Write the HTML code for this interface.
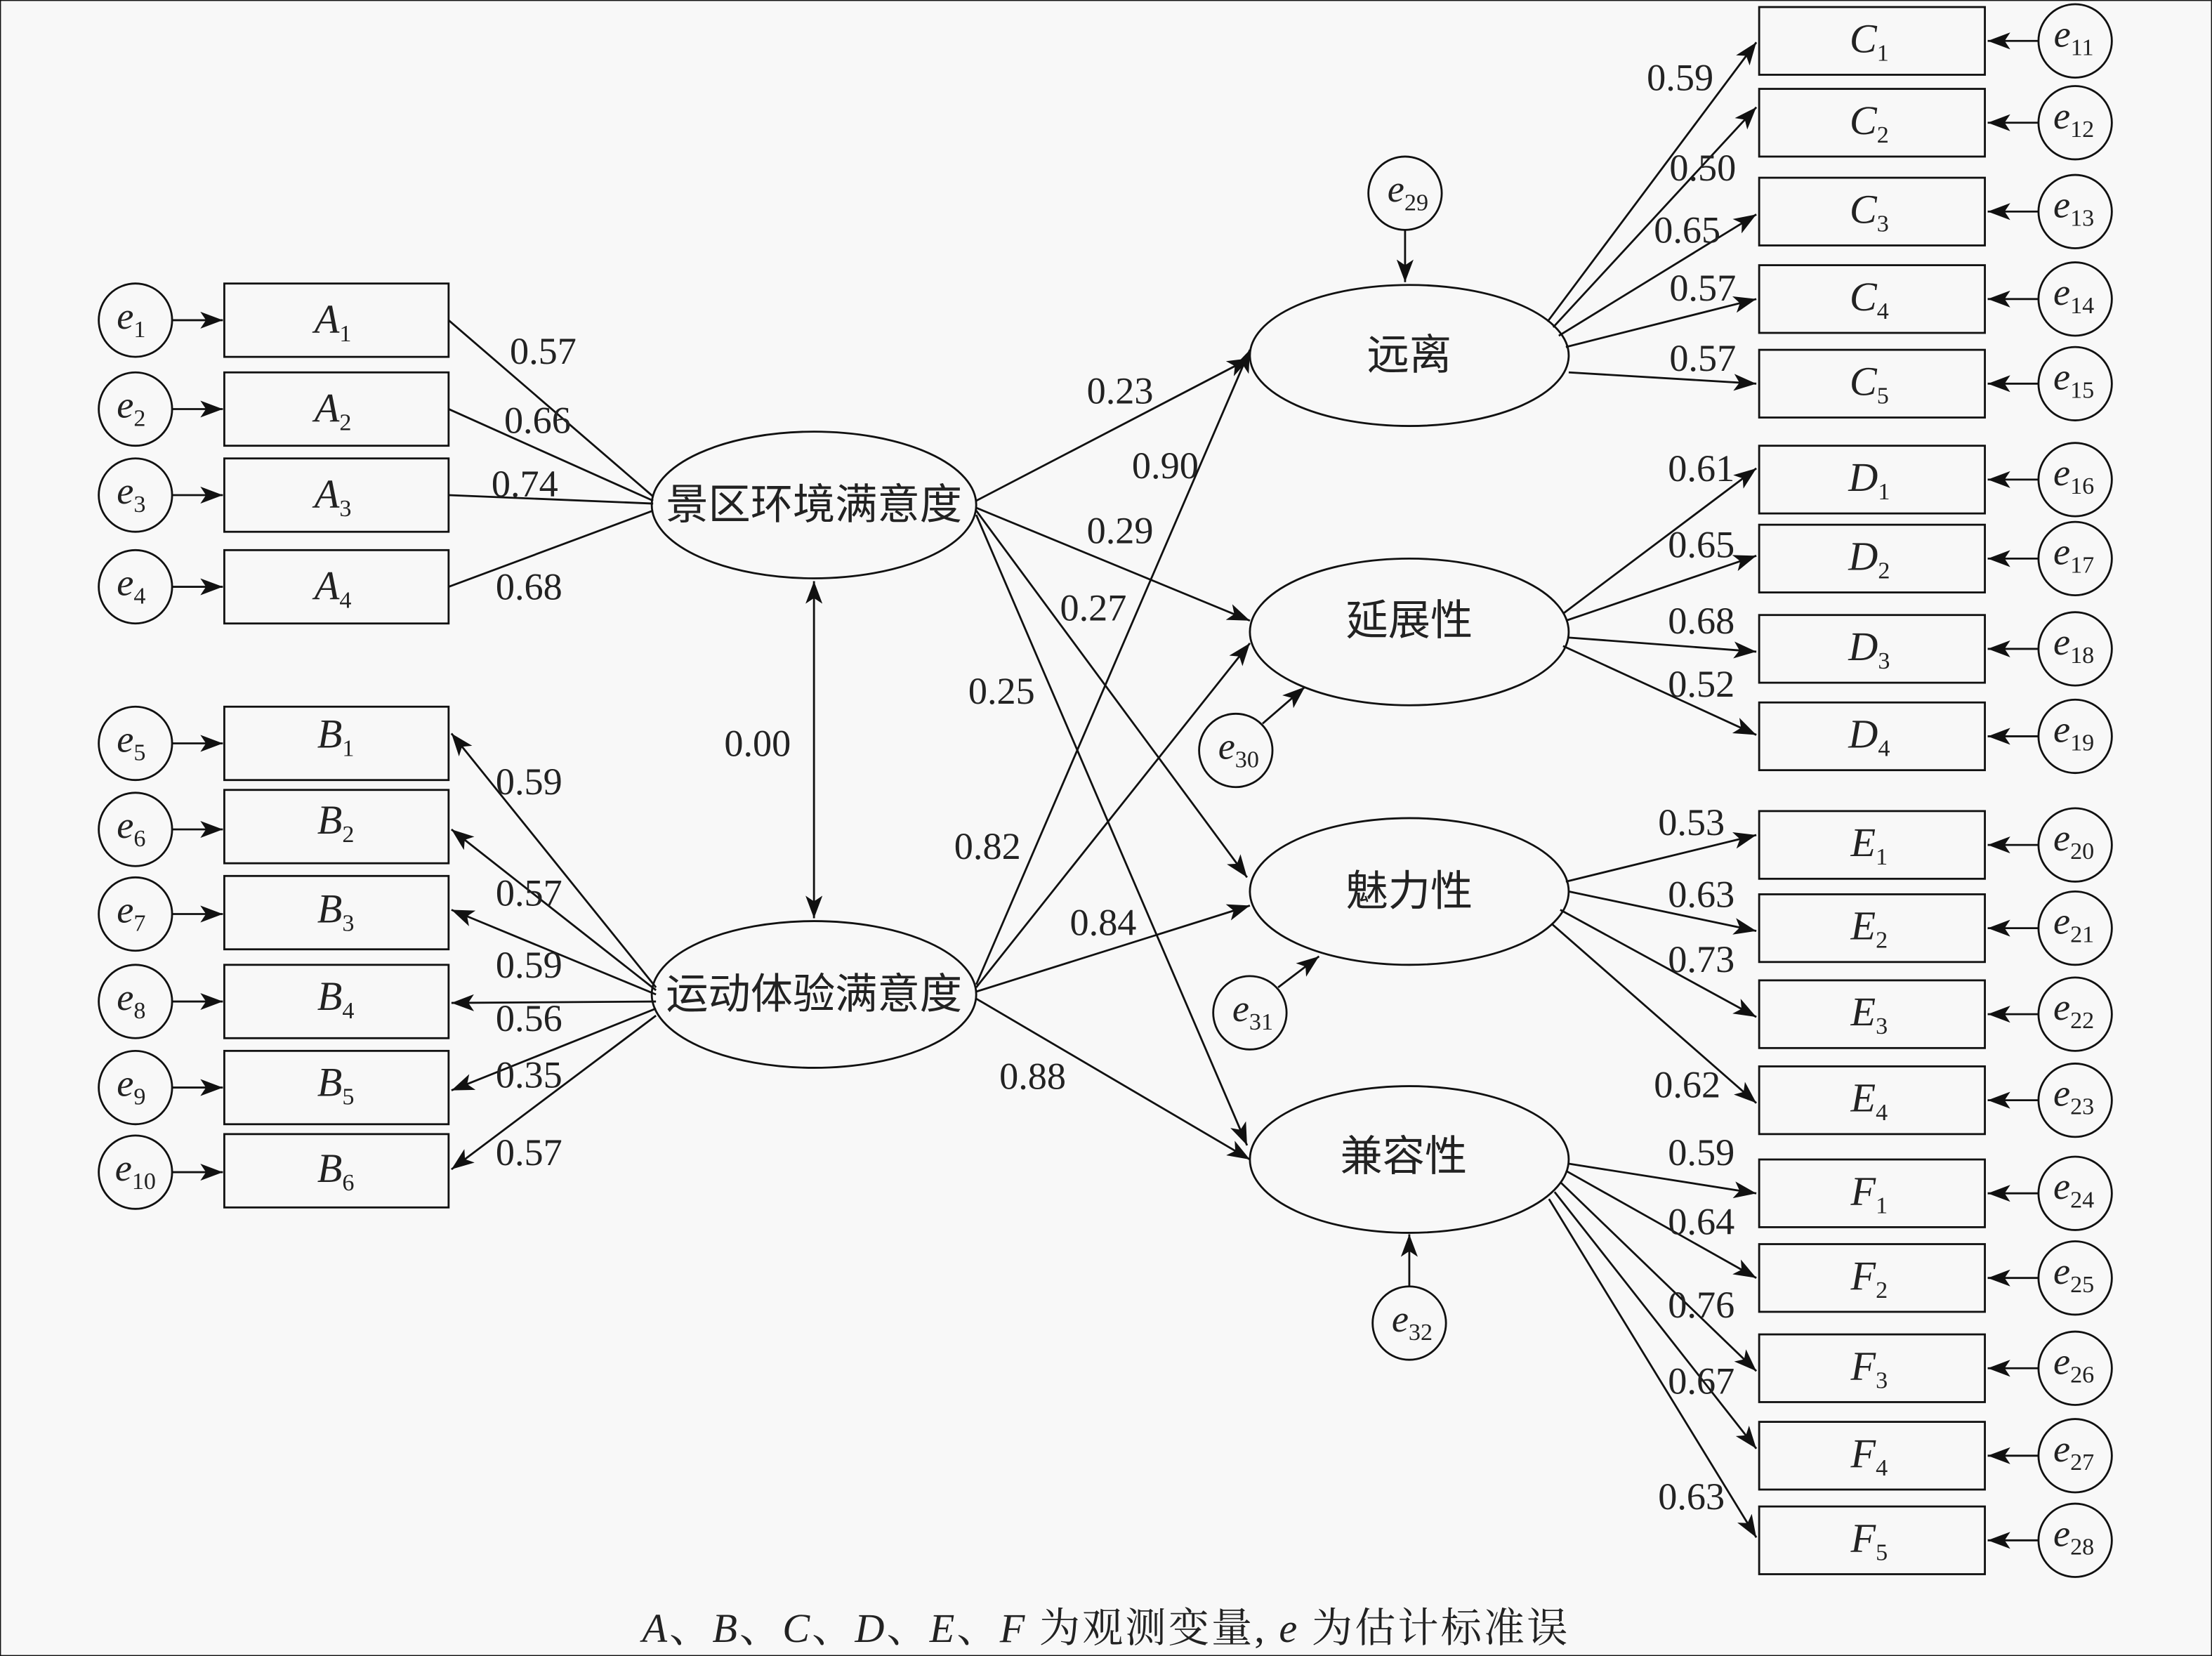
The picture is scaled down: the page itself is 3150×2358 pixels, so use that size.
<!DOCTYPE html>
<html><head><meta charset="utf-8"><style>
html,body{margin:0;padding:0;background:#f8f8f8;}
svg{display:block;}
text{font-family:"Liberation Serif","Noto Serif CJK SC",serif;fill:#222;}
.n{font-size:27px;text-anchor:middle;}
.v{font-size:29px;font-style:italic;text-anchor:middle;}
.e{font-size:27px;font-style:italic;text-anchor:middle;}
.s{font-style:normal;font-size:17px;}
.c{font-family:"Liberation Sans","Noto Sans CJK SC",sans-serif;font-size:30px;text-anchor:middle;}
line,rect,ellipse,circle{stroke:#111;stroke-width:1.4;fill:none;}
</style></head><body>
<svg width="3150" height="2358" viewBox="0 0 1568 1174" preserveAspectRatio="none" xmlns="http://www.w3.org/2000/svg">
<defs>
<marker id="a" viewBox="0 0 16 12" refX="16" refY="6" markerWidth="16" markerHeight="12" markerUnits="userSpaceOnUse" orient="auto-start-reverse">
<path d="M0,0 L16,6 L0,12 L4,6 z" fill="#111"/></marker>
</defs>
<rect x="0" y="0" width="1568" height="1174" fill="#f8f8f8" stroke="none"/>

<g>
<rect x="159" y="201" width="159" height="52"/><rect x="159" y="264" width="159" height="52"/>
<rect x="159" y="325" width="159" height="52"/><rect x="159" y="390" width="159" height="52"/>
<rect x="159" y="501" width="159" height="52"/><rect x="159" y="560" width="159" height="52"/>
<rect x="159" y="621" width="159" height="52"/><rect x="159" y="684" width="159" height="52"/>
<rect x="159" y="745" width="159" height="52"/><rect x="159" y="804" width="159" height="52"/>
</g>
<g>
<circle cx="96" cy="227" r="26"/><circle cx="96" cy="290" r="26"/><circle cx="96" cy="351" r="26"/><circle cx="96" cy="416" r="26"/>
<circle cx="96" cy="527" r="26"/><circle cx="96" cy="588" r="26"/><circle cx="96" cy="648" r="26"/><circle cx="96" cy="710" r="26"/><circle cx="96" cy="771" r="26"/><circle cx="96" cy="831" r="26"/>
</g>
<g marker-end="url(#a)">
<line x1="122" y1="227" x2="158" y2="227"/><line x1="122" y1="290" x2="158" y2="290"/><line x1="122" y1="351" x2="158" y2="351"/><line x1="122" y1="416" x2="158" y2="416"/>
<line x1="122" y1="527" x2="158" y2="527"/><line x1="122" y1="588" x2="158" y2="588"/><line x1="122" y1="648" x2="158" y2="648"/><line x1="122" y1="710" x2="158" y2="710"/><line x1="122" y1="771" x2="158" y2="771"/><line x1="122" y1="831" x2="158" y2="831"/>
</g>
<text class="e" x="93" y="233">e<tspan class="s" dy="6">1</tspan></text>
<text class="e" x="93" y="296">e<tspan class="s" dy="6">2</tspan></text>
<text class="e" x="93" y="357">e<tspan class="s" dy="6">3</tspan></text>
<text class="e" x="93" y="422">e<tspan class="s" dy="6">4</tspan></text>
<text class="e" x="93" y="533">e<tspan class="s" dy="6">5</tspan></text>
<text class="e" x="93" y="594">e<tspan class="s" dy="6">6</tspan></text>
<text class="e" x="93" y="654">e<tspan class="s" dy="6">7</tspan></text>
<text class="e" x="93" y="716">e<tspan class="s" dy="6">8</tspan></text>
<text class="e" x="93" y="777">e<tspan class="s" dy="6">9</tspan></text>
<text class="e" x="96" y="837">e<tspan class="s" dy="6">10</tspan></text>

<text class="v" x="236" y="236">A<tspan class="s" dy="6">1</tspan></text>
<text class="v" x="236" y="299">A<tspan class="s" dy="6">2</tspan></text>
<text class="v" x="236" y="360">A<tspan class="s" dy="6">3</tspan></text>
<text class="v" x="236" y="425">A<tspan class="s" dy="6">4</tspan></text>
<text class="v" x="238" y="530">B<tspan class="s" dy="6">1</tspan></text>
<text class="v" x="238" y="591">B<tspan class="s" dy="6">2</tspan></text>
<text class="v" x="238" y="654">B<tspan class="s" dy="6">3</tspan></text>
<text class="v" x="238" y="716">B<tspan class="s" dy="6">4</tspan></text>
<text class="v" x="238" y="777">B<tspan class="s" dy="6">5</tspan></text>
<text class="v" x="238" y="838">B<tspan class="s" dy="6">6</tspan></text>

<ellipse cx="577" cy="358" rx="115" ry="52"/>
<ellipse cx="577" cy="705" rx="115" ry="52"/>
<text class="c" x="577" y="368">景区环境满意度</text>
<text class="c" x="577" y="715">运动体验满意度</text>
<line x1="318" y1="227" x2="463" y2="352"/><line x1="318" y1="290" x2="463" y2="355"/>
<line x1="318" y1="351" x2="463" y2="357"/><line x1="318" y1="416" x2="463" y2="362"/>
<g marker-end="url(#a)">
<line x1="465" y1="700" x2="320" y2="520"/><line x1="465" y1="702" x2="320" y2="588"/>
<line x1="465" y1="705" x2="320" y2="645"/><line x1="465" y1="710" x2="320" y2="711"/>
<line x1="465" y1="715" x2="320" y2="773"/><line x1="465" y1="720" x2="320" y2="829"/>
</g>
<line x1="577" y1="412" x2="577" y2="651" marker-start="url(#a)" marker-end="url(#a)"/>
<text class="n" x="385" y="258">0.57</text><text class="n" x="381" y="307">0.66</text>
<text class="n" x="372" y="352">0.74</text><text class="n" x="375" y="425">0.68</text>
<text class="n" x="375" y="563">0.59</text><text class="n" x="375" y="642">0.57</text>
<text class="n" x="375" y="693">0.59</text><text class="n" x="375" y="731">0.56</text>
<text class="n" x="375" y="771">0.35</text><text class="n" x="375" y="826">0.57</text>
<text class="n" x="537" y="536">0.00</text>

<g marker-end="url(#a)">
<line x1="692" y1="355" x2="886" y2="254"/>
<line x1="692" y1="360" x2="886" y2="440"/>
<line x1="692" y1="362" x2="884" y2="622"/>
<line x1="692" y1="365" x2="884" y2="812"/>
<line x1="692" y1="698" x2="886" y2="248"/>
<line x1="692" y1="700" x2="886" y2="456"/>
<line x1="692" y1="703" x2="886" y2="642"/>
<line x1="692" y1="708" x2="886" y2="822"/>
</g>
<text class="n" x="794" y="286">0.23</text><text class="n" x="826" y="339">0.90</text>
<text class="n" x="794" y="385">0.29</text><text class="n" x="775" y="440">0.27</text>
<text class="n" x="710" y="499">0.25</text><text class="n" x="700" y="609">0.82</text>
<text class="n" x="782" y="663">0.84</text><text class="n" x="732" y="772">0.88</text>

<ellipse cx="999" cy="252" rx="113" ry="50"/>
<ellipse cx="999" cy="448" rx="113" ry="52"/>
<ellipse cx="999" cy="632" rx="113" ry="52"/>
<ellipse cx="999" cy="822" rx="113" ry="52"/>
<text class="c" x="999" y="262">远离</text>
<text class="c" x="999" y="450">延展性</text>
<text class="c" x="999" y="642">魅力性</text>
<text class="c" x="995" y="830">兼容性</text>

<circle cx="996" cy="137" r="26"/><circle cx="876" cy="532" r="26"/>
<circle cx="886" cy="718" r="26"/><circle cx="999" cy="938" r="26"/>
<g marker-end="url(#a)">
<line x1="996" y1="163" x2="996" y2="200"/>
<line x1="895" y1="513" x2="925" y2="487"/>
<line x1="906" y1="700" x2="935" y2="678"/>
<line x1="999" y1="912" x2="999" y2="875"/>
</g>
<text class="e" x="998" y="143">e<tspan class="s" dy="6">29</tspan></text>
<text class="e" x="878" y="538">e<tspan class="s" dy="6">30</tspan></text>
<text class="e" x="888" y="724">e<tspan class="s" dy="6">31</tspan></text>
<text class="e" x="1001" y="944">e<tspan class="s" dy="6">32</tspan></text>

<g>
<rect x="1247" y="5" width="160" height="48"/><rect x="1247" y="63" width="160" height="48"/>
<rect x="1247" y="126" width="160" height="48"/><rect x="1247" y="188" width="160" height="48"/>
<rect x="1247" y="248" width="160" height="48"/><rect x="1247" y="316" width="160" height="48"/>
<rect x="1247" y="372" width="160" height="48"/><rect x="1247" y="436" width="160" height="48"/>
<rect x="1247" y="498" width="160" height="48"/><rect x="1247" y="575" width="160" height="48"/>
<rect x="1247" y="634" width="160" height="48"/><rect x="1247" y="695" width="160" height="48"/>
<rect x="1247" y="756" width="160" height="48"/><rect x="1247" y="822" width="160" height="48"/>
<rect x="1247" y="882" width="160" height="48"/><rect x="1247" y="946" width="160" height="48"/>
<rect x="1247" y="1008" width="160" height="48"/><rect x="1247" y="1068" width="160" height="48"/>
</g>
<g>
<circle cx="1471" cy="29" r="26"/><circle cx="1471" cy="87" r="26"/><circle cx="1471" cy="150" r="26"/>
<circle cx="1471" cy="212" r="26"/><circle cx="1471" cy="272" r="26"/><circle cx="1471" cy="340" r="26"/>
<circle cx="1471" cy="396" r="26"/><circle cx="1471" cy="460" r="26"/><circle cx="1471" cy="522" r="26"/>
<circle cx="1471" cy="599" r="26"/><circle cx="1471" cy="658" r="26"/><circle cx="1471" cy="719" r="26"/>
<circle cx="1471" cy="780" r="26"/><circle cx="1471" cy="846" r="26"/><circle cx="1471" cy="906" r="26"/>
<circle cx="1471" cy="970" r="26"/><circle cx="1471" cy="1032" r="26"/><circle cx="1471" cy="1092" r="26"/>
</g>
<g marker-end="url(#a)">
<line x1="1445" y1="29" x2="1409" y2="29"/><line x1="1445" y1="87" x2="1409" y2="87"/><line x1="1445" y1="150" x2="1409" y2="150"/>
<line x1="1445" y1="212" x2="1409" y2="212"/><line x1="1445" y1="272" x2="1409" y2="272"/><line x1="1445" y1="340" x2="1409" y2="340"/>
<line x1="1445" y1="396" x2="1409" y2="396"/><line x1="1445" y1="460" x2="1409" y2="460"/><line x1="1445" y1="522" x2="1409" y2="522"/>
<line x1="1445" y1="599" x2="1409" y2="599"/><line x1="1445" y1="658" x2="1409" y2="658"/><line x1="1445" y1="719" x2="1409" y2="719"/>
<line x1="1445" y1="780" x2="1409" y2="780"/><line x1="1445" y1="846" x2="1409" y2="846"/><line x1="1445" y1="906" x2="1409" y2="906"/>
<line x1="1445" y1="970" x2="1409" y2="970"/><line x1="1445" y1="1032" x2="1409" y2="1032"/><line x1="1445" y1="1092" x2="1409" y2="1092"/>
</g>
<text class="e" x="1470" y="33">e<tspan class="s" dy="6">11</tspan></text>
<text class="e" x="1470" y="91">e<tspan class="s" dy="6">12</tspan></text>
<text class="e" x="1470" y="154">e<tspan class="s" dy="6">13</tspan></text>
<text class="e" x="1470" y="216">e<tspan class="s" dy="6">14</tspan></text>
<text class="e" x="1470" y="276">e<tspan class="s" dy="6">15</tspan></text>
<text class="e" x="1470" y="344">e<tspan class="s" dy="6">16</tspan></text>
<text class="e" x="1470" y="400">e<tspan class="s" dy="6">17</tspan></text>
<text class="e" x="1470" y="464">e<tspan class="s" dy="6">18</tspan></text>
<text class="e" x="1470" y="526">e<tspan class="s" dy="6">19</tspan></text>
<text class="e" x="1470" y="603">e<tspan class="s" dy="6">20</tspan></text>
<text class="e" x="1470" y="662">e<tspan class="s" dy="6">21</tspan></text>
<text class="e" x="1470" y="723">e<tspan class="s" dy="6">22</tspan></text>
<text class="e" x="1470" y="784">e<tspan class="s" dy="6">23</tspan></text>
<text class="e" x="1470" y="850">e<tspan class="s" dy="6">24</tspan></text>
<text class="e" x="1470" y="910">e<tspan class="s" dy="6">25</tspan></text>
<text class="e" x="1470" y="974">e<tspan class="s" dy="6">26</tspan></text>
<text class="e" x="1470" y="1036">e<tspan class="s" dy="6">27</tspan></text>
<text class="e" x="1470" y="1096">e<tspan class="s" dy="6">28</tspan></text>

<text class="v" x="1325" y="37">C<tspan class="s" dy="6">1</tspan></text>
<text class="v" x="1325" y="95">C<tspan class="s" dy="6">2</tspan></text>
<text class="v" x="1325" y="158">C<tspan class="s" dy="6">3</tspan></text>
<text class="v" x="1325" y="220">C<tspan class="s" dy="6">4</tspan></text>
<text class="v" x="1325" y="280">C<tspan class="s" dy="6">5</tspan></text>
<text class="v" x="1325" y="348">D<tspan class="s" dy="6">1</tspan></text>
<text class="v" x="1325" y="404">D<tspan class="s" dy="6">2</tspan></text>
<text class="v" x="1325" y="468">D<tspan class="s" dy="6">3</tspan></text>
<text class="v" x="1325" y="530">D<tspan class="s" dy="6">4</tspan></text>
<text class="v" x="1325" y="607">E<tspan class="s" dy="6">1</tspan></text>
<text class="v" x="1325" y="666">E<tspan class="s" dy="6">2</tspan></text>
<text class="v" x="1325" y="727">E<tspan class="s" dy="6">3</tspan></text>
<text class="v" x="1325" y="788">E<tspan class="s" dy="6">4</tspan></text>
<text class="v" x="1325" y="854">F<tspan class="s" dy="6">1</tspan></text>
<text class="v" x="1325" y="914">F<tspan class="s" dy="6">2</tspan></text>
<text class="v" x="1325" y="978">F<tspan class="s" dy="6">3</tspan></text>
<text class="v" x="1325" y="1040">F<tspan class="s" dy="6">4</tspan></text>
<text class="v" x="1325" y="1100">F<tspan class="s" dy="6">5</tspan></text>

<g marker-end="url(#a)">
<line x1="1097" y1="228" x2="1245" y2="30"/><line x1="1101" y1="232" x2="1245" y2="76"/>
<line x1="1105" y1="238" x2="1245" y2="152"/><line x1="1110" y1="246" x2="1245" y2="212"/>
<line x1="1112" y1="264" x2="1245" y2="272"/>
<line x1="1108" y1="435" x2="1245" y2="332"/><line x1="1110" y1="440" x2="1245" y2="394"/>
<line x1="1112" y1="452" x2="1245" y2="462"/><line x1="1108" y1="458" x2="1245" y2="521"/>
<line x1="1110" y1="625" x2="1245" y2="592"/><line x1="1112" y1="632" x2="1245" y2="660"/>
<line x1="1106" y1="645" x2="1245" y2="721"/><line x1="1100" y1="655" x2="1245" y2="782"/>
<line x1="1112" y1="825" x2="1245" y2="846"/><line x1="1110" y1="830" x2="1245" y2="906"/>
<line x1="1106" y1="838" x2="1245" y2="972"/><line x1="1102" y1="845" x2="1245" y2="1027"/>
<line x1="1098" y1="850" x2="1245" y2="1090"/>
</g>
<text class="n" x="1191" y="64">0.59</text><text class="n" x="1207" y="128">0.50</text>
<text class="n" x="1196" y="172">0.65</text><text class="n" x="1207" y="213">0.57</text>
<text class="n" x="1207" y="263">0.57</text><text class="n" x="1206" y="341">0.61</text>
<text class="n" x="1206" y="395">0.65</text><text class="n" x="1206" y="449">0.68</text>
<text class="n" x="1206" y="494">0.52</text><text class="n" x="1199" y="592">0.53</text>
<text class="n" x="1206" y="643">0.63</text><text class="n" x="1206" y="689">0.73</text>
<text class="n" x="1196" y="778">0.62</text><text class="n" x="1206" y="826">0.59</text>
<text class="n" x="1206" y="875">0.64</text><text class="n" x="1206" y="934">0.76</text>
<text class="n" x="1206" y="988">0.67</text><text class="n" x="1199" y="1070">0.63</text>

<text x="784" y="1164" style="font-size:29px;text-anchor:middle;letter-spacing:1.5px;"><tspan font-style="italic">A</tspan>、<tspan font-style="italic">B</tspan>、<tspan font-style="italic">C</tspan>、<tspan font-style="italic">D</tspan>、<tspan font-style="italic">E</tspan>、<tspan font-style="italic">F</tspan> 为观测变量, <tspan font-style="italic">e</tspan> 为估计标准误</text>
</svg>
</body></html>
